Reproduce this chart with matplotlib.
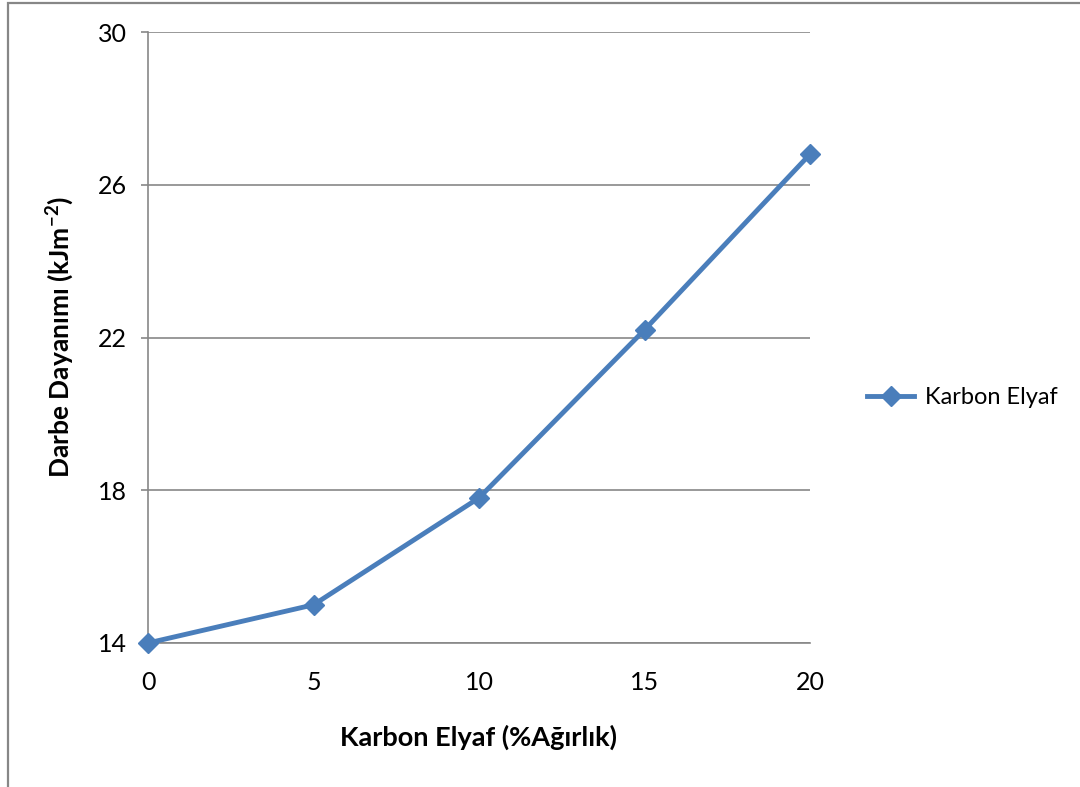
import matplotlib
matplotlib.use('Agg')
import matplotlib.pyplot as plt
from matplotlib.patches import Rectangle

# Karbon elyaf oranına göre darbe dayanımı
oran = [0, 5, 10, 15, 20]
darbe = [14.0, 15.0, 17.8, 22.2, 26.8]
y_ticks = [14, 18, 22, 26, 30]
x_ticks = [0, 5, 10, 15, 20]

plt.rcParams['font.family'] = ['Lato', 'DejaVu Sans']
plt.rcParams['mathtext.fontset'] = 'custom'
plt.rcParams['mathtext.rm'] = 'Lato'
plt.rcParams['mathtext.bf'] = 'Lato:bold'

fig = plt.figure(figsize=(10.8, 7.87), dpi=100)
ax = fig.add_axes([148 / 1080, 1 - 643 / 787, 662 / 1080, 611 / 787])

mavi = '#4a7ebb'
gri = '#878787'

ax.plot(oran, darbe, '-', color=mavi, linewidth=3.5, marker='D',
        markersize=10, label='Karbon Elyaf', clip_on=False, zorder=3)

ax.set_xlim(0, 20)
ax.set_ylim(14, 30)
ax.set_xticks(x_ticks)
ax.set_yticks(y_ticks)
ax.grid(True, axis='y', color=gri, linewidth=1.2)

for s in ['top', 'right']:
    ax.spines[s].set_visible(False)
for s in ['left', 'bottom']:
    ax.spines[s].set_color(gri)
    ax.spines[s].set_linewidth(1.2)

ax.tick_params(axis='y', direction='out', length=5, width=1.2, color=gri,
               labelsize=18, pad=10)
ax.tick_params(axis='x', length=0, labelsize=18, pad=20)

ax.set_xlabel('Karbon Elyaf (%Ağırlık)', fontsize=19.5, fontweight='bold',
              labelpad=22)
ax.set_ylabel(r'Darbe Dayanımı (kJm$^{\mathbf{-2}}$)', fontsize=19,
              fontweight='bold', labelpad=16)

fig.legend(loc='center left', bbox_to_anchor=(846 / 1080, 1 - 398 / 787),
           frameon=False, fontsize=17, handlelength=2.0, handletextpad=0.45)

# grafik çerçevesi
fig.add_artist(Rectangle((8 / 1080, -0.1), 2, 1.1 - 3 / 787,
                         transform=fig.transFigure, fill=False,
                         edgecolor=gri, linewidth=1.6))

fig.savefig('out.png', dpi=100)
